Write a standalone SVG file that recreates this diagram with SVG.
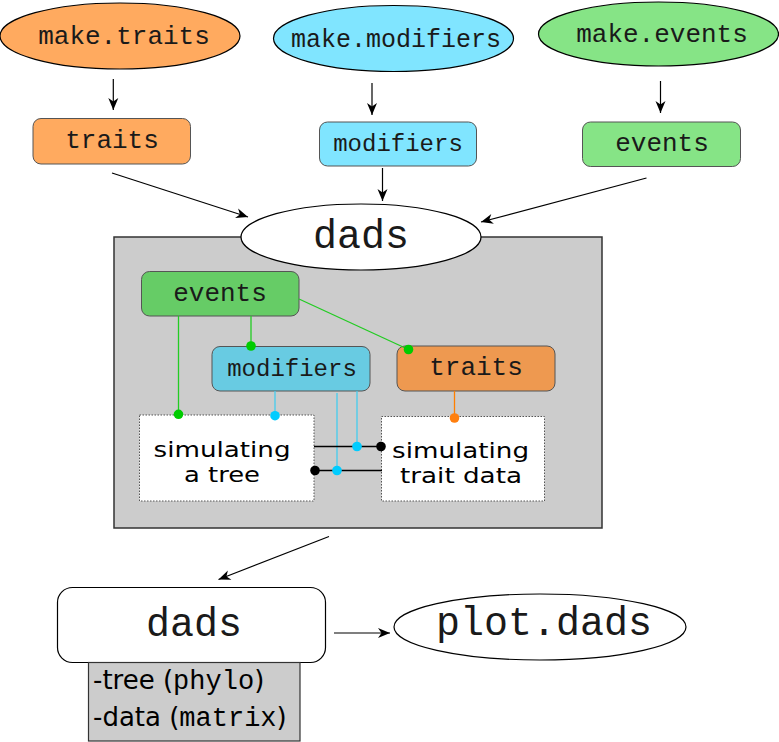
<svg xmlns="http://www.w3.org/2000/svg" width="779" height="742" viewBox="0 0 779 742">
<style>
.mono{font-family:"Liberation Mono","Courier New",monospace;fill:#1a1a1a;text-anchor:middle}
.sans{font-family:"DejaVu Sans","Liberation Sans",sans-serif;fill:#000}
.ell{stroke:#000;stroke-width:1.2}
.box{stroke:#555;stroke-width:1}
.arr{stroke:#000;stroke-width:1.2;fill:none;marker-end:url(#ah)}
.sim{fill:#fff;stroke:#555;stroke-width:1;stroke-dasharray:1.5,1.5}
.g{stroke:#22cc22;stroke-width:1.3;fill:none}
.c{stroke:#44ccee;stroke-width:1.3;fill:none}
.o{stroke:#ff7f00;stroke-width:1.3;fill:none}
.k{stroke:#000;stroke-width:1.3;fill:none}
</style>
<defs>
<marker id="ah" markerUnits="userSpaceOnUse" markerWidth="16" markerHeight="12" viewBox="-13 -6 16 12" refX="0" refY="0" orient="auto">
<path d="M0,0 L-12,-5 L-8.5,0 L-12,5 Z" fill="#000"/>
</marker>
</defs>
<rect width="779" height="742" fill="#fff"/>

<g id="make-traits"><ellipse class="ell" cx="120" cy="36" rx="120" ry="33" fill="#ffaa5f"/><text class="mono" x="124" y="44" font-size="26">make.traits</text></g>
<g id="make-modifiers"><ellipse class="ell" cx="393.5" cy="38.5" rx="120" ry="33" fill="#80e5ff"/><text class="mono" x="396" y="47" font-size="25">make.modifiers</text></g>
<g id="make-events"><ellipse class="ell" cx="658.5" cy="34" rx="120" ry="32" fill="#86e486"/><text class="mono" x="662" y="42" font-size="26">make.events</text></g>

<g id="traits-top"><rect class="box" x="33" y="118.5" width="157.5" height="45.5" rx="8" fill="#ffaa5f"/><text class="mono" x="112" y="148" font-size="26">traits</text></g>
<g id="modifiers-top"><rect class="box" x="319.5" y="122" width="157" height="44" rx="8" fill="#80e5ff"/><text class="mono" x="398" y="151" font-size="24">modifiers</text></g>
<g id="events-top"><rect class="box" x="582.5" y="122" width="158" height="44.5" rx="8" fill="#86e486"/><text class="mono" x="662" y="151" font-size="26">events</text></g>

<g id="dads-box"><rect x="114" y="237" width="488" height="291" fill="#cccccc" stroke="#333" stroke-width="1.5"/></g>
<g id="dads"><ellipse class="ell" cx="361" cy="237" rx="120" ry="33" fill="#fff"/><text class="mono" x="361" y="248" font-size="40">dads</text></g>

<g id="events-in"><rect class="box" x="141.5" y="271.5" width="157.5" height="44.5" rx="8" fill="#66cc66"/><text class="mono" x="220" y="301" font-size="26">events</text></g>
<g id="modifiers-in"><rect class="box" x="212" y="346.5" width="158" height="44.5" rx="8" fill="#68cbe2"/><text class="mono" x="292" y="376" font-size="24">modifiers</text></g>
<g id="traits-in"><rect class="box" x="397" y="346" width="158" height="45" rx="8" fill="#ee9950"/><text class="mono" x="476" y="375" font-size="26">traits</text></g>

<g id="sim-tree"><rect class="sim" x="139.5" y="415" width="174.5" height="86"/><text class="sans" x="222" y="457" font-size="21.5" text-anchor="middle" textLength="137" lengthAdjust="spacingAndGlyphs">simulating</text><text class="sans" x="222" y="482" font-size="21.5" text-anchor="middle" textLength="76" lengthAdjust="spacingAndGlyphs">a tree</text></g>
<g id="sim-trait"><rect class="sim" x="381.5" y="416.5" width="163" height="84.5"/><text class="sans" x="460.5" y="458" font-size="21.5" text-anchor="middle" textLength="137" lengthAdjust="spacingAndGlyphs">simulating</text><text class="sans" x="461" y="483" font-size="21.5" text-anchor="middle" textLength="122" lengthAdjust="spacingAndGlyphs">trait data</text></g>

<g id="dads-out"><rect x="57.5" y="587.5" width="268" height="75" rx="15" fill="#fff" stroke="#000" stroke-width="1.2"/><text class="mono" x="194" y="636" font-size="40">dads</text></g>
<g id="dads-slots"><rect x="88.5" y="662.5" width="211.5" height="78.5" fill="#cccccc" stroke="#333" stroke-width="1.2"/>
<text class="sans" x="93" y="689" font-size="26">-tree (<tspan font-family="Liberation Mono, monospace" font-size="27">phylo</tspan>)</text>
<text class="sans" x="93" y="726" font-size="26">-data (<tspan font-family="Liberation Mono, monospace" font-size="27">matrix</tspan>)</text></g>
<g id="plot-dads"><ellipse class="ell" cx="540" cy="627" rx="146" ry="33" fill="#fff"/><text class="mono" x="544" y="635" font-size="40">plot.dads</text></g>

<g id="connectors">
<line class="arr" x1="113.3" y1="79" x2="113.3" y2="110"/>
<line class="arr" x1="372" y1="83" x2="372" y2="115"/>
<line class="arr" x1="660.5" y1="81" x2="660.5" y2="113"/>
<line class="arr" x1="112" y1="173" x2="248" y2="217"/>
<line class="arr" x1="382.5" y1="168" x2="382.5" y2="201"/>
<line class="arr" x1="646.5" y1="178" x2="481" y2="222"/>
<line class="arr" x1="329" y1="536.5" x2="218.5" y2="579.5"/>
<line class="arr" x1="334" y1="633" x2="390" y2="633"/>

<line class="g" x1="178.5" y1="316" x2="178.5" y2="414"/>
<line class="g" x1="251" y1="316" x2="251" y2="346"/>
<line class="g" x1="299" y1="299" x2="408.5" y2="349.5"/>
<line class="c" x1="275" y1="391" x2="275" y2="416"/>
<line class="c" x1="337" y1="393" x2="337" y2="470.5"/>
<line class="c" x1="357" y1="391" x2="357" y2="446.5"/>
<line class="o" x1="454.5" y1="391" x2="454.5" y2="418"/>
<line class="k" x1="314" y1="446.5" x2="381" y2="446.5"/>
<line class="k" x1="315" y1="470.5" x2="382" y2="470.5"/>
<g fill="#00cc00"><circle cx="178.5" cy="414.3" r="4.8"/><circle cx="251" cy="346" r="4.8"/><circle cx="408.5" cy="349.5" r="4.8"/></g>
<g fill="#00ccff"><circle cx="275" cy="415.7" r="4.8"/><circle cx="357" cy="446.5" r="4.8"/><circle cx="337" cy="470.5" r="4.8"/></g>
<circle cx="454.5" cy="418" r="4.8" fill="#ff7f0e"/>
<g fill="#000"><circle cx="381" cy="446.5" r="4.8"/><circle cx="315" cy="470.5" r="4.8"/></g>
</g>
</svg>
